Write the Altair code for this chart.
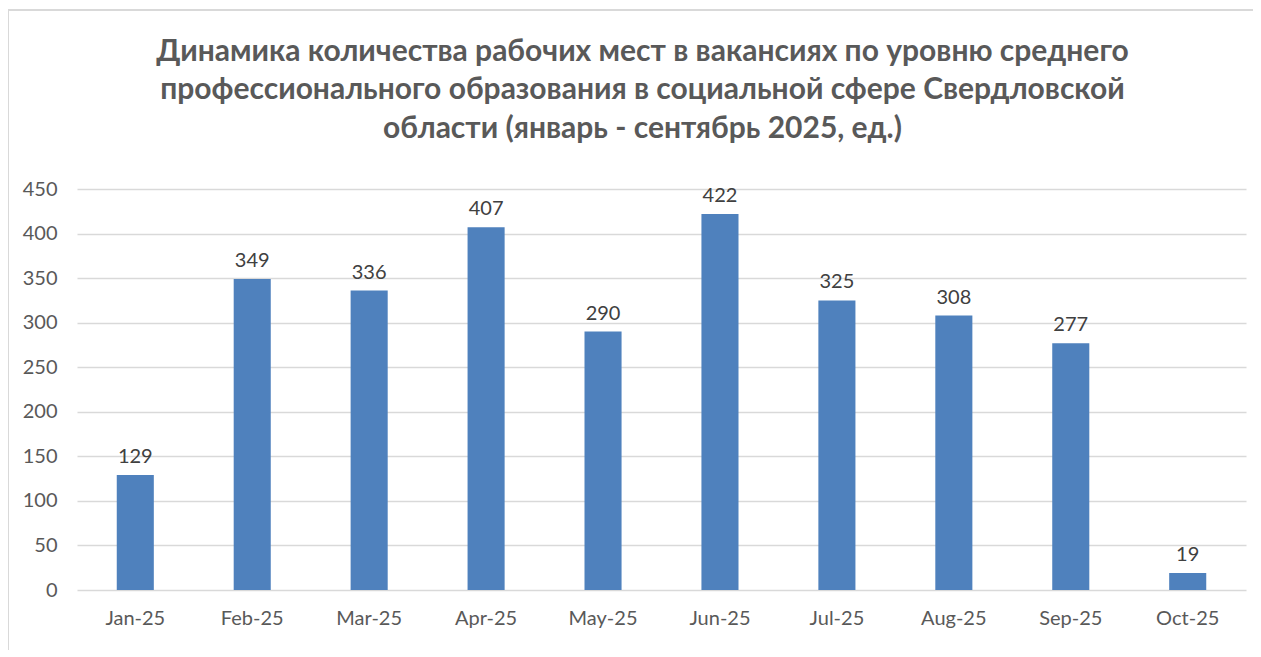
import altair as alt
import pandas as pd

months = ["Jan-25", "Feb-25", "Mar-25", "Apr-25", "May-25", "Jun-25", "Jul-25", "Aug-25", "Sep-25", "Oct-25"]
values = [129, 349, 336, 407, 290, 422, 325, 308, 277, 19]
title_lines = [
    "Динамика количества рабочих мест в вакансиях по уровню среднего",
    "профессионального образования в социальной сфере Свердловской",
    "области (январь - сентябрь 2025, ед.)",
]

df = pd.DataFrame({"month": months, "value": values})

x = alt.X("month:N", sort=months, title=None,
          scale=alt.Scale(paddingInner=0.683, paddingOuter=0.34),
          axis=alt.Axis(labelAngle=0, labelFontSize=20, labelColor="#595959", labelFont="Lato",
                        domain=False, ticks=False, labelPadding=18))
y = alt.Y("value:Q", title=None,
          scale=alt.Scale(domain=[0, 450], nice=False),
          axis=alt.Axis(values=list(range(0, 451, 50)), labelFontSize=20, labelColor="#595959",
                        labelFont="Lato", domain=False, ticks=False, labelPadding=20,
                        gridColor="#d9d9d9", gridWidth=1.3))

bars = alt.Chart(df).mark_bar(color="#4F81BD").encode(x=x, y=y)
labels = alt.Chart(df).mark_text(baseline="bottom", dy=-8, fontSize=20, font="Lato",
                                 color="#404040").encode(x=x, y=y, text="value:Q")

tdf = pd.DataFrame({"t": ["\n".join(title_lines)]})
title = alt.Chart(tdf).mark_text(font="Lato", fontSize=30, fontWeight="bold", color="#595959",
                                 lineBreak="\n", lineHeight=38.5, align="center",
                                 baseline="middle").encode(
    text="t:N", x=alt.value(565.5), y=alt.value(-137.5))

border = pd.DataFrame({"k": [0]})
left_border = alt.Chart(border).mark_rule(color="#d9d9d9", strokeWidth=2).encode(
    x=alt.value(-69), y=alt.value(-180), y2=alt.value(470))
top_border = alt.Chart(border).mark_rule(color="#d9d9d9", strokeWidth=2).encode(
    y=alt.value(-179), x=alt.value(-69), x2=alt.value(1180))

chart = alt.layer(bars, labels, title, left_border, top_border).properties(
    width=1169, height=401,
    padding={"left": 69, "top": 181, "right": 7, "bottom": 60},
    autosize=alt.AutoSizeParams(type="none"),
    background="white",
).configure_view(stroke=None)

chart.save("out.html", embed_options={"renderer": "svg", "actions": False})
